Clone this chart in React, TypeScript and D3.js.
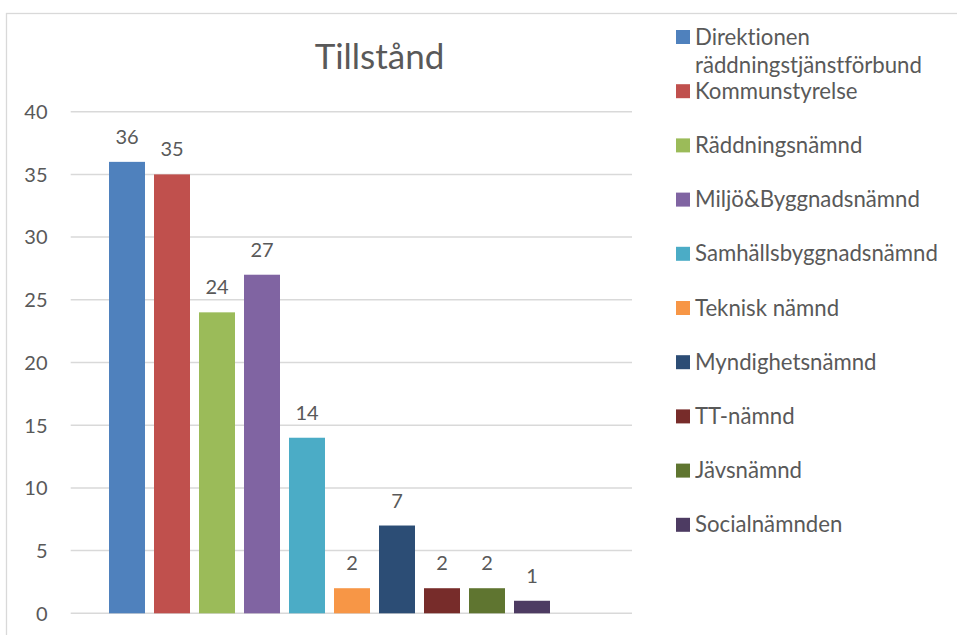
import React from "react";
import * as d3 from "d3";

const title = "Tillstånd";
const seriesNames = [
  "Direktionen räddningstjänstförbund",
  "Kommunstyrelse",
  "Räddningsnämnd",
  "Miljö&Byggnadsnämnd",
  "Samhällsbyggnadsnämnd",
  "Teknisk nämnd",
  "Myndighetsnämnd",
  "TT-nämnd",
  "Jävsnämnd",
  "Socialnämnden",
];
const seriesValues = [36, 35, 24, 27, 14, 2, 7, 2, 2, 1];
const seriesColors = [
  "#4F81BD",
  "#C0504D",
  "#9BBB59",
  "#8064A2",
  "#4BACC6",
  "#F79646",
  "#2C4D75",
  "#772C2A",
  "#5F7530",
  "#4D3B62",
];
const yTicks = [0, 5, 10, 15, 20, 25, 30, 35, 40];

const W = 957;
const H = 635;
const FONT = "Lato, 'Open Sans', sans-serif";
const TEXT = "#595959";
const GRID = "#d9d9d9";

function wrapWords(label: string, maxWidth: number, font: string): string[] {
  const canvas = document.createElement("canvas");
  const ctx = canvas.getContext("2d");
  if (!ctx) return [label];
  ctx.font = font;
  const words = label.split(" ");
  const lines: string[] = [];
  let cur = "";
  for (const w of words) {
    const test = cur ? cur + " " + w : w;
    if (cur && ctx.measureText(test).width > maxWidth) {
      lines.push(cur);
      cur = w;
    } else {
      cur = test;
    }
  }
  if (cur) lines.push(cur);
  return lines;
}

export default function App() {
  const y = d3.scaleLinear().domain([0, 40]).range([613.3, 111.7]);
  const x = d3
    .scaleBand<string>()
    .domain(seriesNames)
    .range([109, 550])
    .paddingInner(0.2)
    .paddingOuter(0);
  const legendY = d3
    .scaleLinear()
    .domain([0, seriesNames.length - 1])
    .range([37, 37 + 54.2 * (seriesNames.length - 1)]);

  const legendFontSize = 22.2;
  const legendFont = `${legendFontSize}px Lato`;

  return (
    <svg
      width={W}
      height={H}
      style={{ position: "absolute", left: 0, top: 0, display: "block", background: "#fff" }}
      fontFamily={FONT}
    >
      <rect x={6.5} y={13.5} width={1200} height={900} fill="#fff" stroke={GRID} strokeWidth={1.3} />
      <text x={379.5} y={69} textAnchor="middle" fontSize={35} fill={TEXT}>
        {title}
      </text>
      {yTicks.map((t) => (
        <g key={t}>
          <line x1={70.7} x2={632} y1={y(t)} y2={y(t)} stroke={GRID} strokeWidth={1.5} />
          <text x={47.5} y={y(t) + 7.3} textAnchor="end" fontSize={20} fill={TEXT}>
            {t}
          </text>
        </g>
      ))}
      {seriesNames.map((s, i) => (
        <g key={s}>
          <rect
            x={x(s)}
            y={y(seriesValues[i])}
            width={x.bandwidth()}
            height={y(0) - y(seriesValues[i])}
            fill={seriesColors[i]}
          />
          <text
            x={(x(s) as number) + x.bandwidth() / 2}
            y={y(seriesValues[i]) - 18}
            textAnchor="middle"
            fontSize={20}
            fill={TEXT}
          >
            {seriesValues[i]}
          </text>
        </g>
      ))}
      {seriesNames.map((s, i) => {
        const cy = legendY(i);
        const lines = wrapWords(s, 250, legendFont);
        return (
          <g key={"lg" + s}>
            <rect x={676} y={cy - 7} width={14} height={14} fill={seriesColors[i]} />
            <text
              x={695}
              y={cy + 7.5}
              fontSize={legendFontSize}
              fill={TEXT}
              style={{ fontVariantLigatures: "none" }}
            >
              {lines.map((ln, j) => (
                <tspan key={j} x={695} dy={j === 0 ? 0 : 28}>
                  {ln}
                </tspan>
              ))}
            </text>
          </g>
        );
      })}
    </svg>
  );
}
